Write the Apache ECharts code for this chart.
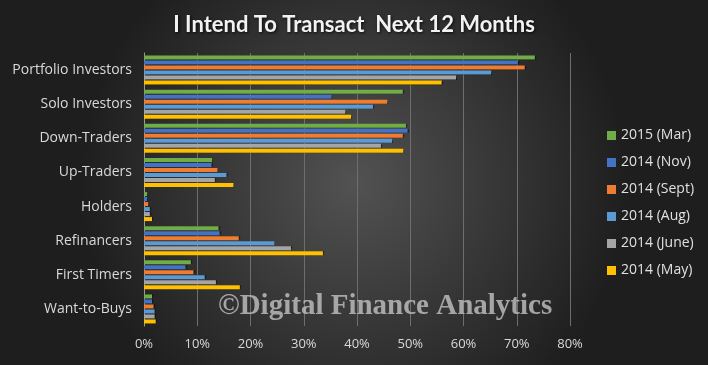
<!DOCTYPE html>
<html><head><meta charset="utf-8">
<script src="https://cdn.jsdelivr.net/npm/echarts@6/dist/echarts.min.js"></script>
<style>html,body{margin:0;padding:0;background:#333}#c{width:708px;height:365px}</style>
</head><body><div id="c"></div>
<script>
const categories = ['Portfolio Investors','Solo Investors','Down-Traders','Up-Traders','Holders','Refinancers','First Timers','Want-to-Buys'];
const seriesNames = ['2015 (Mar)','2014 (Nov)','2014 (Sept)','2014 (Aug)','2014 (June)','2014 (May)'];
const mar2015  = [73.4, 48.6, 49.2, 12.8, 0.6, 14.0, 8.8, 1.5];
const nov2014  = [70.2, 35.2, 49.5, 12.7, 0.6, 14.2, 7.8, 1.5];
const sept2014 = [71.5, 45.7, 48.6, 13.8, 0.8, 17.8, 9.3, 1.8];
const aug2014  = [65.2, 43.0, 46.6, 15.5, 1.1, 24.5, 11.4, 2.0];
const june2014 = [58.6, 37.8, 44.5, 13.3, 1.1, 27.6, 13.5, 2.0];
const may2014  = [55.9, 38.9, 48.7, 16.8, 1.5, 33.6, 18.0, 2.2];
const xTicks = [0,10,20,30,40,50,60,70,80];
const colors = ['#70AD47','#4472C4','#ED7D31','#5B9BD5','#A5A5A5','#FFC000'];
const allData = [mar2015, nov2014, sept2014, aug2014, june2014, may2014];

const chart = echarts.init(document.getElementById('c'));
const font = '"Open Sans", Lato, sans-serif';
chart.setOption({
  backgroundColor: {type:'radial', x:0.5, y:0.5, r:0.75, colorStops:[{offset:0,color:'#525252'},{offset:1,color:'#1e1e1e'}]},
  animation: false,
  title: {text:'I Intend To Transact  Next 12 Months', left:'center', top:9,
    textStyle:{color:'#f2f2f2', fontSize:22, fontWeight:'bold', fontFamily:'Lato, sans-serif',
      textShadowColor:'rgba(0,0,0,0.8)', textShadowBlur:3, textShadowOffsetX:1, textShadowOffsetY:1}},
  legend: {orient:'vertical', left:602, top:123, itemWidth:9, itemHeight:9, itemGap:12,
    icon:'rect', data: seriesNames,
    textStyle:{color:'#e0e0e0', fontSize:14, fontFamily:font, lineHeight:15}},
  grid: {left:144, right:138, top:53, bottom:39, containLabel:false},
  xAxis: {type:'value', min:xTicks[0], max:xTicks[xTicks.length-1], interval:10,
    axisLabel:{formatter:'{value}%', color:'#d9d9d9', fontSize:13, fontFamily:font, margin:12},
    axisLine:{show:false}, axisTick:{show:false},
    splitLine:{lineStyle:{color:'#6e6e6e', width:1}}},
  yAxis: {type:'category', inverse:true, data:categories,
    axisLabel:{color:'#d9d9d9', fontSize:14, fontFamily:font, margin:12},
    axisLine:{lineStyle:{color:'#9a9a9a'}}, axisTick:{show:false}},
  graphic: [{type:'text', left:218, top:292, z:100,
    style:{text:'©Digital Finance Analytics', fill:'rgba(195,195,195,0.8)',
      font:'bold 29px "Liberation Serif", "DejaVu Serif", serif'}}],
  series: seriesNames.map((n,i)=>({
    name:n, type:'bar', data:allData[i], barWidth:4, barGap:'25%',
    itemStyle:{color:colors[i], shadowColor:'rgba(0,0,0,0.6)', shadowOffsetX:1, shadowBlur:1}
  }))
});
</script></body></html>
